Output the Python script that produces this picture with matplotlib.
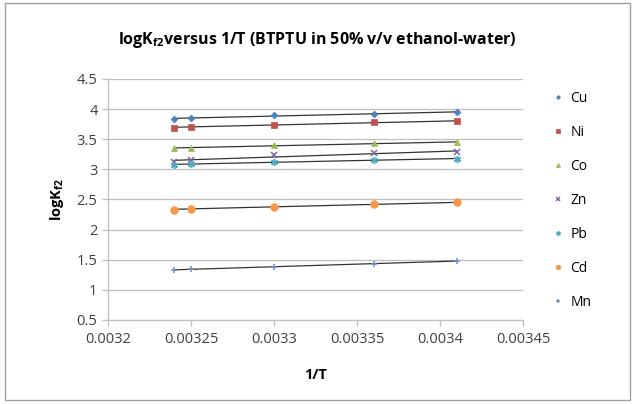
import numpy as np
import matplotlib
matplotlib.use("Agg")
import matplotlib.pyplot as plt

plt.rcParams["font.family"] = ["Open Sans", "DejaVu Sans"]
plt.rcParams["mathtext.fontset"] = "custom"
plt.rcParams["mathtext.rm"] = "Open Sans"
plt.rcParams["mathtext.bf"] = "Open Sans:bold"

inv_t = [0.00324, 0.00325, 0.0033, 0.00336, 0.00341]

cu = [3.83, 3.86, 3.90, 3.92, 3.95]
ni = [3.69, 3.71, 3.74, 3.78, 3.80]
co = [3.35, 3.36, 3.40, 3.43, 3.45]
zn = [3.13, 3.155, 3.24, 3.265, 3.29]
pb = [3.08, 3.09, 3.12, 3.15, 3.18]
cd = [2.33, 2.35, 2.38, 2.42, 2.45]
mn = [1.335, 1.34, 1.385, 1.425, 1.485]

metals = ["Cu", "Ni", "Co", "Zn", "Pb", "Cd", "Mn"]
values = [cu, ni, co, zn, pb, cd, mn]
colors = ["#4F81BD", "#C0504D", "#9BBB59", "#8064A2", "#4BACC6", "#F79646", "#6F8FCB"]
markers = ["D", "s", "^", "x", (6, 2, 0), "o", "+"]
sizes = [3.5, 5, 5, 5, 5, 5.5, 5]

fig = plt.figure(figsize=(6.35, 4.04), dpi=100)
ax = fig.add_axes([0.170, 0.208, 0.6536, 0.5965])

for name, y, c, m, s in zip(metals, values, colors, markers, sizes):
    ax.plot(inv_t, y, linestyle="none", marker=m, color=c, markersize=s,
            markeredgewidth=1.1 if m in ("x", "+") or isinstance(m, tuple) else 0.5,
            label=name, zorder=3)
    # linear trendline
    k, b = np.polyfit(inv_t, y, 1)
    xs = np.array([min(inv_t), max(inv_t)])
    ax.plot(xs, k * xs + b, color="#333333", linewidth=0.9, zorder=2)

ax.set_xlim(0.0032, 0.00345)
ax.set_ylim(0.5, 4.5)
ax.set_xticks([0.0032, 0.00325, 0.0033, 0.00335, 0.0034, 0.00345])
ax.set_xticklabels(["0.0032", "0.00325", "0.0033", "0.00335", "0.0034", "0.00345"])
ax.set_yticks([0.5, 1, 1.5, 2, 2.5, 3, 3.5, 4, 4.5])
ax.set_yticklabels(["0.5", "1", "1.5", "2", "2.5", "3", "3.5", "4", "4.5"])
ax.grid(axis="y", color="#BFBFBF", linewidth=0.9)
ax.set_axisbelow(True)

for side in ("top", "right"):
    ax.spines[side].set_visible(False)
for side in ("left", "bottom"):
    ax.spines[side].set_color("#BFBFBF")
    ax.spines[side].set_linewidth(0.9)
ax.tick_params(colors="#BFBFBF", labelcolor="#404040", labelsize=10.5, length=4, width=0.9)
ax.tick_params(axis="x", pad=5)

ax.set_xlabel("1/T", fontsize=10.5, fontweight="bold", labelpad=15)
ax.set_ylabel(r"logK$_{\mathregular{f2}}$", fontsize=10.5, fontweight="bold", labelpad=8)
fig.text(0.5, 0.9, r"logK$_{\mathregular{f2}}$versus 1/T (BTPTU in 50% v/v ethanol-water)",
         ha="center", va="center", fontsize=11.5, fontweight="bold")

fig.legend(loc="upper left", bbox_to_anchor=(0.85, 0.805), frameon=False,
           fontsize=10, labelspacing=1.36, handlelength=0.8, handletextpad=0.5,
           markerscale=0.6)

border = plt.Rectangle((0.008, 0.01), 0.984, 0.982, transform=fig.transFigure,
                       fill=False, edgecolor="#A0A0A0", linewidth=1.0)
fig.add_artist(border)

fig.savefig("out.png", dpi=100)
